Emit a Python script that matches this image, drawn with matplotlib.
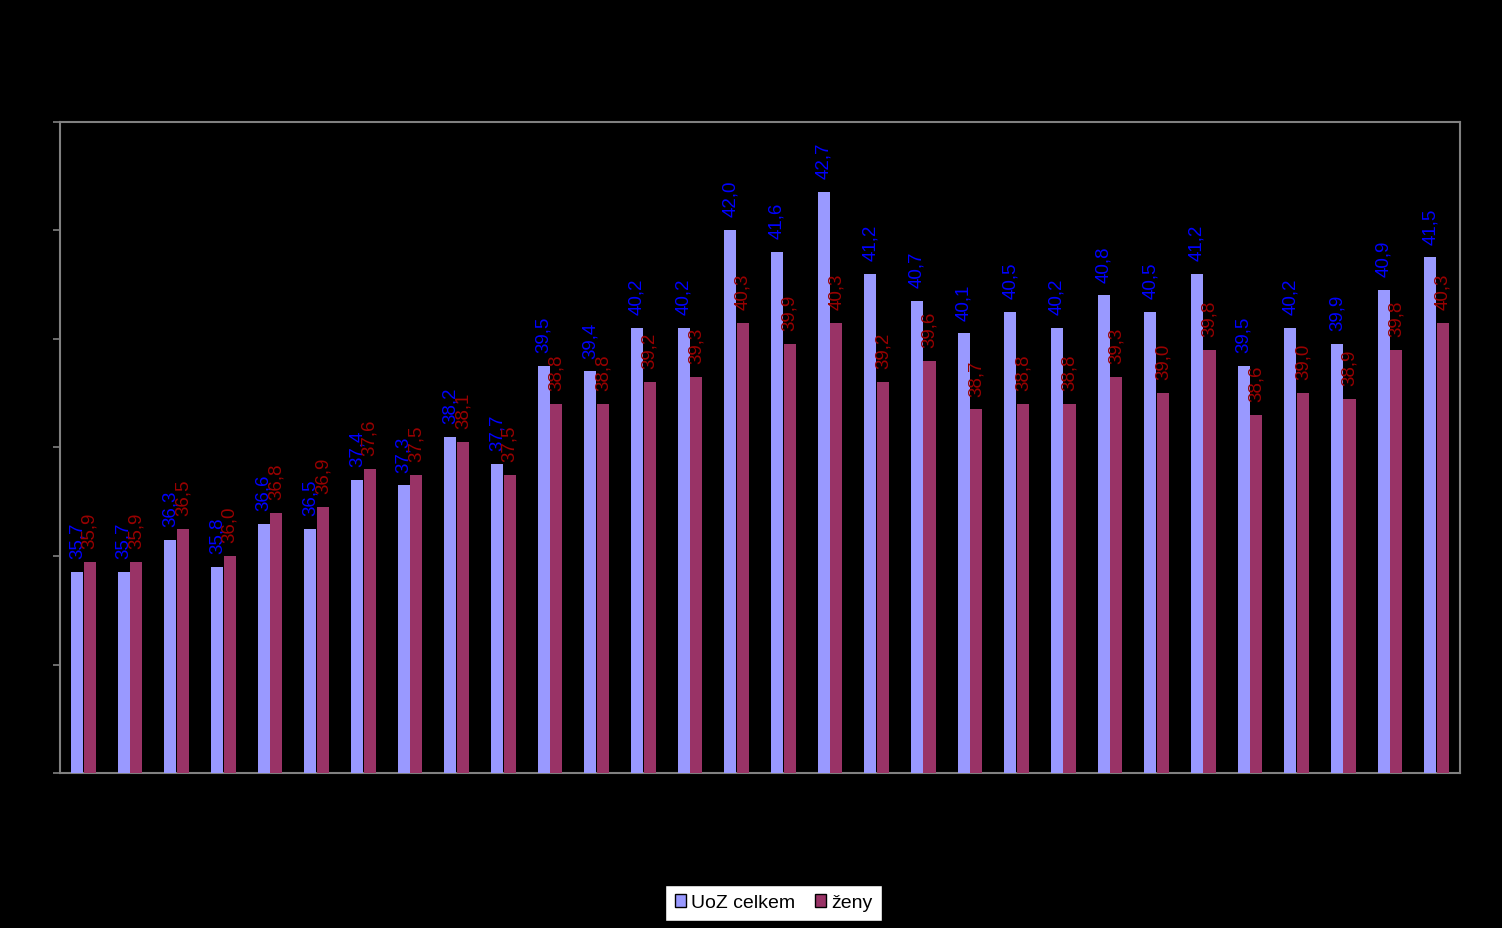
import matplotlib
matplotlib.use("Agg")
import matplotlib.pyplot as plt
import numpy as np

plt.rcParams['font.family'] = ['Liberation Sans', 'DejaVu Sans']

celkem = [35.7, 35.7, 36.3, 35.8, 36.6, 36.5, 37.4, 37.3, 38.2, 37.7,
          39.5, 39.4, 40.2, 40.2, 42.0, 41.6, 42.7, 41.2, 40.7, 40.1,
          40.5, 40.2, 40.8, 40.5, 41.2, 39.5, 40.2, 39.9, 40.9, 41.5]
zeny = [35.9, 35.9, 36.5, 36.0, 36.8, 36.9, 37.6, 37.5, 38.1, 37.5,
        38.8, 38.8, 39.2, 39.3, 40.3, 39.9, 40.3, 39.2, 39.6, 38.7,
        38.8, 38.8, 39.3, 39.0, 39.8, 38.6, 39.0, 38.9, 39.8, 40.3]
series_names = ["UoZ celkem", "ženy"]

fig = plt.figure(figsize=(15.02, 9.29), dpi=100, facecolor='black')
ax = fig.add_axes([0.03995, 0.1665, 0.932, 0.7015], facecolor='black')

x = np.arange(len(celkem))
w = 0.26
b1 = ax.bar(x - 0.135, celkem, w, color='#9999FF', label=series_names[0], zorder=3)
b2 = ax.bar(x + 0.135, zeny, w, color='#993366', label=series_names[1], zorder=3)

for bars, vals, col in [(b1, celkem, '#0000FF'), (b2, zeny, '#990000')]:
    for r, v in zip(bars, vals):
        ax.annotate(f"{v:.1f}".replace('.', ','),
                    (r.get_x() + r.get_width() / 2, v),
                    xytext=(0, 10), textcoords='offset points',
                    rotation=90, ha='center', va='bottom',
                    color=col, fontsize=13.5)

ax.set_xlim(-0.5, len(celkem) - 0.5)
ax.set_ylim(32, 44)
ax.set_yticks(np.arange(32, 45, 2))
ax.tick_params(axis='y', colors='#808080', labelcolor='black', length=5, width=1.2)
ax.set_xticks([])
for s in ax.spines.values():
    s.set_color('#808080')
    s.set_linewidth(1.5)

leg = fig.legend(loc='center', bbox_to_anchor=(0.515, 0.027), ncol=2,
                 fontsize=14, frameon=True, fancybox=False, framealpha=1,
                 handlelength=0.6, handleheight=0.6, handletextpad=0.25,
                 columnspacing=1.0, borderpad=0.5)
leg.get_frame().set_facecolor('white')
leg.get_frame().set_edgecolor('black')
for h in leg.legend_handles:
    h.set_edgecolor('black')
    h.set_linewidth(1)

fig.savefig("out.png", dpi=100, facecolor='black')
